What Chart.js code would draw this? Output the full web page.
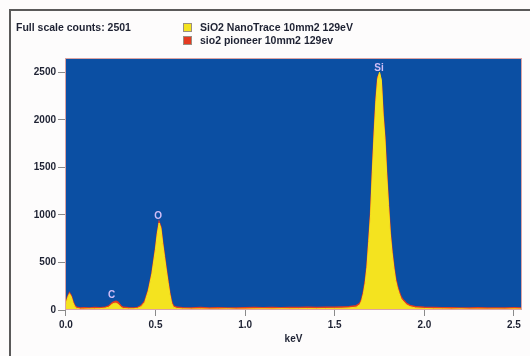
<!DOCTYPE html>
<html>
<head>
<meta charset="utf-8">
<script src="https://cdn.jsdelivr.net/npm/chart.js@4.4.1/dist/chart.umd.min.js"></script>
<style>
  html, body { margin: 0; padding: 0; background: #fdfcfc; }
  #wrap { position: relative; width: 530px; height: 356px; }
</style>
</head>
<body>
<div id="wrap"><canvas id="spectrum" width="530" height="356"></canvas></div>
<script>
/* ===== data ===== */
const energies = [
  0.00, 0.01, 0.02, 0.03, 0.04, 0.05, 0.06, 0.08, 0.10, 0.13, 0.16, 0.19, 0.22,
  0.24, 0.25, 0.26, 0.27, 0.28, 0.29, 0.30, 0.31, 0.32, 0.35, 0.38,
  0.40, 0.42, 0.44, 0.46, 0.48, 0.50, 0.51, 0.52, 0.53, 0.54, 0.55, 0.56, 0.57, 0.58, 0.59, 0.60, 0.62,
  0.65, 0.70, 0.75, 0.80, 0.85, 0.90, 0.95, 1.00, 1.05, 1.10, 1.15, 1.20, 1.25, 1.30, 1.35, 1.40, 1.45, 1.50, 1.54, 1.58,
  1.62, 1.64, 1.65, 1.66, 1.67, 1.68, 1.69, 1.70, 1.71, 1.72, 1.73, 1.74, 1.75, 1.76, 1.77, 1.78, 1.79,
  1.80, 1.81, 1.82, 1.83, 1.84, 1.85, 1.86, 1.87, 1.88, 1.90, 1.92, 1.95,
  2.00, 2.05, 2.10, 2.15, 2.20, 2.25, 2.30, 2.35, 2.40, 2.45, 2.50, 2.545
];

const countsNanoTrace = [
  60, 130, 172, 140, 75, 35, 18, 10, 11, 12, 13, 14, 20,
  30, 48, 62, 70, 72, 62, 42, 25, 16, 12, 13,
  18, 35, 80, 200, 380, 640, 800, 915, 860, 700, 560, 420, 290, 165, 70, 30, 16,
  12, 11, 12, 10, 11, 12, 10, 11, 12, 13, 12, 14, 13, 14, 15, 14, 16, 17, 18, 22,
  30, 55, 95, 170, 280, 450, 720, 1000, 1450, 1850, 2200, 2430, 2501, 2420, 2050, 1800, 1420,
  1100, 800, 600, 440, 310, 230, 170, 120, 95, 55, 35, 22,
  16, 13, 12, 11, 12, 10, 11, 10, 11, 10, 12, 11
];

const countsPioneer = [
  70, 140, 180, 150, 85, 45, 28, 22, 24, 20, 26, 24, 30,
  42, 60, 78, 88, 92, 84, 60, 38, 28, 24, 22,
  26, 45, 92, 210, 390, 650, 810, 925, 870, 712, 575, 435, 305, 180, 85, 42, 28,
  24, 22, 25, 21, 24, 22, 20, 23, 25, 24, 26, 24, 27, 25, 28, 26, 29, 30, 32, 35,
  45, 70, 110, 190, 300, 470, 740, 1020, 1470, 1870, 2220, 2450, 2480, 2400, 2070, 1820, 1440,
  1120, 820, 620, 460, 330, 250, 188, 138, 110, 70, 48, 34,
  28, 25, 23, 24, 22, 21, 23, 20, 22, 21, 23, 22
];

const seriesLabels = ['SiO2 NanoTrace 10mm2 129eV', 'sio2 pioneer 10mm2 129ev'];
const xTicks = [0.0, 0.5, 1.0, 1.5, 2.0, 2.5];
const yTicks = [0, 500, 1000, 1500, 2000, 2500];
const peakNames = ['C', 'O', 'Si'];
const peakLabelEnergy = [0.255, 0.515, 1.747];
const peakLabelCounts = [160, 985, 2545];
const fullScaleCounts = 2501;

/* ===== look ===== */
const COLORS = {
  plotBg: '#0b4fa3',
  yellow: '#f4e31f',
  red: '#e53a21',
  label: '#d0bdf6',
  tick: '#1e2233',
  tickMark: '#8a8a8a',
  frame: '#5a5a5a',
  plotBorder: '#dba3a3',
};
const FONT = "'Liberation Sans', Arial, sans-serif";

const toPoints = (vals) => energies.map((e, i) => ({ x: e, y: vals[i] }));

/* ===== decorations drawn on the canvas ===== */
const decor = {
  id: 'decor',
  beforeDraw(chart) {
    const { ctx, chartArea: a } = chart;
    ctx.save();
    ctx.fillStyle = '#fdfcfc';
    ctx.fillRect(0, 0, chart.width, chart.height);
    ctx.fillStyle = COLORS.plotBg;
    ctx.fillRect(a.left, a.top, a.right - a.left, a.bottom - a.top);
    ctx.restore();
  },
  afterDraw(chart) {
    const { ctx, chartArea: a, scales } = chart;
    ctx.save();

    // plot outline
    ctx.strokeStyle = COLORS.plotBorder;
    ctx.lineWidth = 1;
    ctx.strokeRect(a.left + 0.5, a.top + 0.5, a.right - a.left - 1, a.bottom - a.top - 1);

    // outer frame (top + left)
    ctx.strokeStyle = COLORS.frame;
    ctx.lineWidth = 2;
    ctx.beginPath();
    ctx.moveTo(530, 10);
    ctx.lineTo(10, 10);
    ctx.lineTo(10, 356);
    ctx.stroke();

    // header text
    ctx.fillStyle = COLORS.tick;
    ctx.font = 'bold 10.5px ' + FONT;
    ctx.textBaseline = 'middle';
    ctx.textAlign = 'left';
    ctx.fillText('Full scale counts: ' + fullScaleCounts, 16, 28);

    // legend
    const swatch = [COLORS.yellow, COLORS.red];
    seriesLabels.forEach((lab, i) => {
      const y = 23 + i * 13;
      ctx.fillStyle = swatch[i];
      ctx.fillRect(183, y, 9, 9);
      ctx.strokeStyle = '#9a8f80';
      ctx.lineWidth = 1;
      ctx.strokeRect(183.5, y + 0.5, 8, 8);
      ctx.fillStyle = COLORS.tick;
      ctx.fillText(lab, 200, y + 5);
    });

    // peak labels
    ctx.fillStyle = COLORS.label;
    ctx.textAlign = 'center';
    ctx.font = 'bold 10px ' + FONT;
    peakNames.forEach((n, i) => {
      const px = scales.x.getPixelForValue(peakLabelEnergy[i]);
      const py = scales.y.getPixelForValue(peakLabelCounts[i]);
      ctx.fillText(n, px, py);
    });
    ctx.restore();
  },
};

/* ===== chart ===== */
new Chart(document.getElementById('spectrum'), {
  type: 'line',
  data: {
    datasets: [
      {
        label: seriesLabels[0],
        data: toPoints(countsNanoTrace),
        borderColor: COLORS.yellow,
        backgroundColor: COLORS.yellow,
        borderWidth: 1,
        fill: 'origin',
        pointRadius: 0,
        tension: 0,
      },
      {
        label: seriesLabels[1],
        data: toPoints(countsPioneer),
        borderColor: COLORS.red,
        backgroundColor: COLORS.red,
        borderWidth: 1.5,
        fill: 'origin',
        pointRadius: 0,
        tension: 0,
      },
    ],
  },
  options: {
    responsive: false,
    animation: false,
    layout: { padding: { top: 58, right: 8, left: 0, bottom: 0 } },
    plugins: {
      legend: { display: false },
      tooltip: { enabled: false },
    },
    scales: {
      x: {
        type: 'linear',
        min: -0.005,
        max: 2.545,
        afterFit: (s) => { s.height = 46; },
        afterBuildTicks: (s) => { s.ticks = xTicks.map((v) => ({ value: v })); },
        grid: { drawOnChartArea: false, drawTicks: true, tickLength: 6, color: COLORS.tickMark },
        border: { display: false },
        ticks: {
          color: COLORS.tick,
          font: { family: FONT, size: 10, weight: 'bold' },
          padding: 3,
          maxRotation: 0,
          callback: (v) => Number(v).toFixed(1),
        },
        title: {
          display: true,
          text: 'keV',
          color: COLORS.tick,
          font: { family: FONT, size: 10, weight: 'bold' },
          padding: { top: 0, bottom: 11 },
        },
      },
      y: {
        min: 0,
        max: 2650,
        afterFit: (s) => { s.width = 65; },
        afterBuildTicks: (s) => { s.ticks = yTicks.map((v) => ({ value: v })); },
        grid: { drawOnChartArea: false, drawTicks: true, tickLength: 7, color: COLORS.tickMark },
        border: { display: false },
        ticks: {
          color: COLORS.tick,
          font: { family: FONT, size: 10, weight: 'bold' },
          padding: 2,
          callback: (v) => String(v),
        },
      },
    },
  },
  plugins: [decor],
});
</script>
</body>
</html>
